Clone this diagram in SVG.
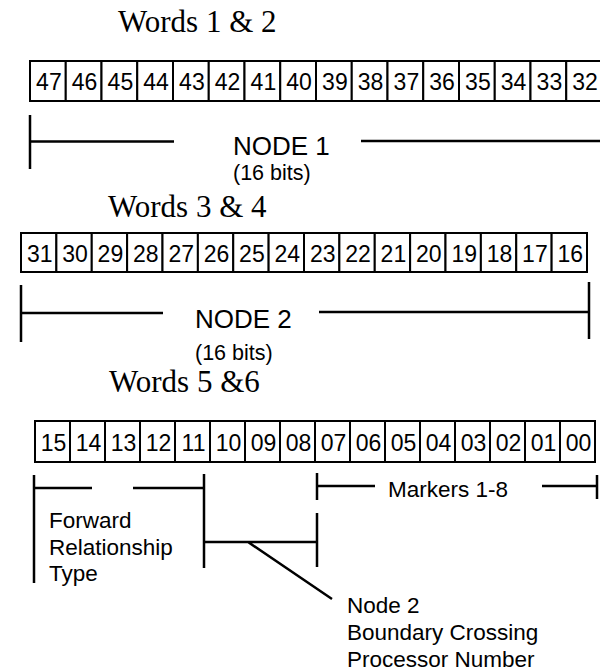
<svg xmlns="http://www.w3.org/2000/svg" width="600" height="671" viewBox="0 0 600 671">
<style>
.title{font-family:"Liberation Serif","Times New Roman",serif;font-size:31px;fill:#000}
.cell{fill:#fff;stroke:#000;stroke-width:2}
.bit{font-family:"Liberation Sans",Arial,sans-serif;font-size:23px;fill:#000;text-anchor:middle}
.lbl{font-family:"Liberation Sans",Arial,sans-serif;font-size:22.5px;fill:#000}
.big{font-family:"Liberation Sans",Arial,sans-serif;font-size:26px;fill:#000}
.ln{fill:none;stroke:#000;stroke-width:2.5}
</style>
<rect width="600" height="671" fill="#fff"/>
<text class="title" x="118" y="32">Words 1 &amp; 2</text>
<text class="title" x="108" y="217">Words 3 &amp; 4</text>
<text class="title" x="109" y="392">Words 5 &amp;6</text>
<g id="row1">
<rect class="cell" x="30" y="61" width="35.75" height="40"/><rect class="cell" x="65.75" y="61" width="35.75" height="40"/><rect class="cell" x="101.5" y="61" width="35.75" height="40"/><rect class="cell" x="137.25" y="61" width="35.75" height="40"/><rect class="cell" x="173" y="61" width="35.75" height="40"/><rect class="cell" x="208.75" y="61" width="35.75" height="40"/><rect class="cell" x="244.5" y="61" width="35.75" height="40"/><rect class="cell" x="280.25" y="61" width="35.75" height="40"/><rect class="cell" x="316" y="61" width="35.75" height="40"/><rect class="cell" x="351.75" y="61" width="35.75" height="40"/><rect class="cell" x="387.5" y="61" width="35.75" height="40"/><rect class="cell" x="423.25" y="61" width="35.75" height="40"/><rect class="cell" x="459" y="61" width="35.75" height="40"/><rect class="cell" x="494.75" y="61" width="35.75" height="40"/><rect class="cell" x="530.5" y="61" width="35.75" height="40"/><rect class="cell" x="566.25" y="61" width="35.75" height="40"/>
<text class="bit" x="48.9" y="90">47</text><text class="bit" x="84.6" y="90">46</text><text class="bit" x="120.4" y="90">45</text><text class="bit" x="156.1" y="90">44</text><text class="bit" x="191.9" y="90">43</text><text class="bit" x="227.6" y="90">42</text><text class="bit" x="263.4" y="90">41</text><text class="bit" x="299.1" y="90">40</text><text class="bit" x="334.9" y="90">39</text><text class="bit" x="370.6" y="90">38</text><text class="bit" x="406.4" y="90">37</text><text class="bit" x="442.1" y="90">36</text><text class="bit" x="477.9" y="90">35</text><text class="bit" x="513.6" y="90">34</text><text class="bit" x="549.4" y="90">33</text><text class="bit" x="585.1" y="90">32</text>
</g>
<g id="row2">
<rect class="cell" x="21" y="233" width="35.375" height="39"/><rect class="cell" x="56.375" y="233" width="35.375" height="39"/><rect class="cell" x="91.75" y="233" width="35.375" height="39"/><rect class="cell" x="127.125" y="233" width="35.375" height="39"/><rect class="cell" x="162.5" y="233" width="35.375" height="39"/><rect class="cell" x="197.875" y="233" width="35.375" height="39"/><rect class="cell" x="233.25" y="233" width="35.375" height="39"/><rect class="cell" x="268.625" y="233" width="35.375" height="39"/><rect class="cell" x="304" y="233" width="35.375" height="39"/><rect class="cell" x="339.375" y="233" width="35.375" height="39"/><rect class="cell" x="374.75" y="233" width="35.375" height="39"/><rect class="cell" x="410.125" y="233" width="35.375" height="39"/><rect class="cell" x="445.5" y="233" width="35.375" height="39"/><rect class="cell" x="480.875" y="233" width="35.375" height="39"/><rect class="cell" x="516.25" y="233" width="35.375" height="39"/><rect class="cell" x="551.625" y="233" width="35.375" height="39"/>
<text class="bit" x="39.7" y="262">31</text><text class="bit" x="75.1" y="262">30</text><text class="bit" x="110.4" y="262">29</text><text class="bit" x="145.8" y="262">28</text><text class="bit" x="181.2" y="262">27</text><text class="bit" x="216.6" y="262">26</text><text class="bit" x="251.9" y="262">25</text><text class="bit" x="287.3" y="262">24</text><text class="bit" x="322.7" y="262">23</text><text class="bit" x="358.1" y="262">22</text><text class="bit" x="393.4" y="262">21</text><text class="bit" x="428.8" y="262">20</text><text class="bit" x="464.2" y="262">19</text><text class="bit" x="499.6" y="262">18</text><text class="bit" x="534.9" y="262">17</text><text class="bit" x="570.3" y="262">16</text>
</g>
<g id="row3">
<rect class="cell" x="35" y="421" width="35" height="41"/><rect class="cell" x="70" y="421" width="35" height="41"/><rect class="cell" x="105" y="421" width="35" height="41"/><rect class="cell" x="140" y="421" width="35" height="41"/><rect class="cell" x="175" y="421" width="35" height="41"/><rect class="cell" x="210" y="421" width="35" height="41"/><rect class="cell" x="245" y="421" width="35" height="41"/><rect class="cell" x="280" y="421" width="35" height="41"/><rect class="cell" x="315" y="421" width="35" height="41"/><rect class="cell" x="350" y="421" width="35" height="41"/><rect class="cell" x="385" y="421" width="35" height="41"/><rect class="cell" x="420" y="421" width="35" height="41"/><rect class="cell" x="455" y="421" width="35" height="41"/><rect class="cell" x="490" y="421" width="35" height="41"/><rect class="cell" x="525" y="421" width="35" height="41"/><rect class="cell" x="560" y="421" width="35" height="41"/>
<text class="bit" x="53.5" y="451">15</text><text class="bit" x="88.5" y="451">14</text><text class="bit" x="123.5" y="451">13</text><text class="bit" x="158.5" y="451">12</text><text class="bit" x="193.5" y="451">11</text><text class="bit" x="228.5" y="451">10</text><text class="bit" x="263.5" y="451">09</text><text class="bit" x="298.5" y="451">08</text><text class="bit" x="333.5" y="451">07</text><text class="bit" x="368.5" y="451">06</text><text class="bit" x="403.5" y="451">05</text><text class="bit" x="438.5" y="451">04</text><text class="bit" x="473.5" y="451">03</text><text class="bit" x="508.5" y="451">02</text><text class="bit" x="543.5" y="451">01</text><text class="bit" x="578.5" y="451">00</text>
</g>
<g id="connectors">
<path class="ln" d="M30 115V169M30 141.5H174M361 141H600"/>
<path class="ln" d="M21 285V342M21 313H163M319 312H589M589 282V339"/>
<path class="ln" d="M34 475V583M34 488H92M133 488H204M204 474V568M204 542H317M317 513V567M248 542L332 599"/>
<path class="ln" d="M317 473V500M317 486H375M542 486H597M597 475V499"/>
</g>
<g id="labels">
<text class="big" x="233" y="155">NODE 1</text>
<text class="lbl" x="233" y="180" style="font-size:21.5px">(16 bits)</text>
<text class="big" x="195" y="328">NODE 2</text>
<text class="lbl" x="195" y="360" style="font-size:21.5px">(16 bits)</text>
<text class="lbl" x="388" y="497">Markers 1-8</text>
<text class="lbl" x="49" y="528">Forward</text>
<text class="lbl" x="49" y="555">Relationship</text>
<text class="lbl" x="49" y="581">Type</text>
<text class="lbl" x="347" y="613">Node 2</text>
<text class="lbl" x="347" y="640">Boundary Crossing</text>
<text class="lbl" x="347" y="667">Processor Number</text>
</g>
</svg>
